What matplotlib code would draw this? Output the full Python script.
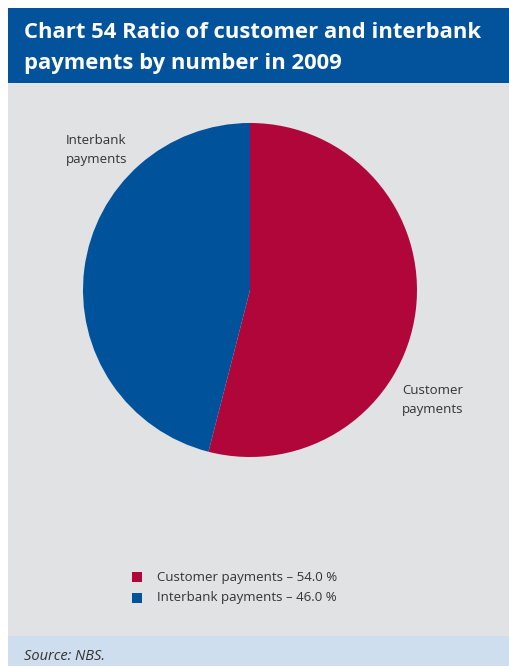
import matplotlib.pyplot as plt
from matplotlib.patches import Rectangle

plt.rcParams['font.family'] = ['Open Sans', 'DejaVu Sans']

# chart data
categories = ['Customer payments', 'Interbank payments']
shares = [54.0, 46.0]
colors = ['#b0063a', '#00529b']
slice_labels = ['Customer\npayments', 'Interbank\npayments']

W, H = 510, 666
fig = plt.figure(figsize=(W / 100, H / 100), dpi=100)
fig.patch.set_facecolor('white')

# background panels in pixel coordinates
bg = fig.add_axes([0, 0, 1, 1])
bg.set_xlim(0, W)
bg.set_ylim(H, 0)
bg.axis('off')
bg.add_patch(Rectangle((8, 8), W - 8, 75, color='#02529c', lw=0))
bg.add_patch(Rectangle((8, 83), W - 8, 553, color='#e1e2e4', lw=0))
bg.add_patch(Rectangle((8, 636), W - 8, 30, color='#cfdeee', lw=0))

bg.text(24, 33, 'Chart 54 Ratio of customer and interbank', color='white',
        fontsize=15.8, fontweight='bold', va='center', ha='left')
bg.text(24, 64, 'payments by number in 2009', color='white',
        fontsize=15.8, fontweight='bold', va='center', ha='left')
bg.text(24, 656, 'Source: NBS.', color='#333333', fontsize=10.5,
        style='italic', va='center', ha='left')

# slice labels
bg.text(66, 150, slice_labels[1], color='#333333', fontsize=9.5,
        va='center', ha='left', linespacing=1.6)
bg.text(402, 400, slice_labels[0], color='#333333', fontsize=9.5,
        va='center', ha='left', linespacing=1.6)

# legend
for i, (cat, val, col) in enumerate(zip(categories, shares, colors)):
    y = 577 + i * 21
    bg.add_patch(Rectangle((132, y - 5), 10, 10, color=col, lw=0))
    bg.text(157, y, f'{cat} \u2013 {val:.1f} %', color='#333333',
            fontsize=9.5, va='center', ha='left')

# pie: centre (250, 290), radius 167 px
cx, cy, r = 250, 290, 167
ax = fig.add_axes([(cx - r) / W, 1 - (cy + r) / H, 2 * r / W, 2 * r / H])
ax.pie(shares, colors=colors, startangle=90, counterclock=False,
       wedgeprops=dict(linewidth=0))
ax.set_xlim(-1, 1)
ax.set_ylim(-1, 1)
ax.set_aspect('equal')
ax.axis('off')

fig.savefig('out.png', dpi=100)
